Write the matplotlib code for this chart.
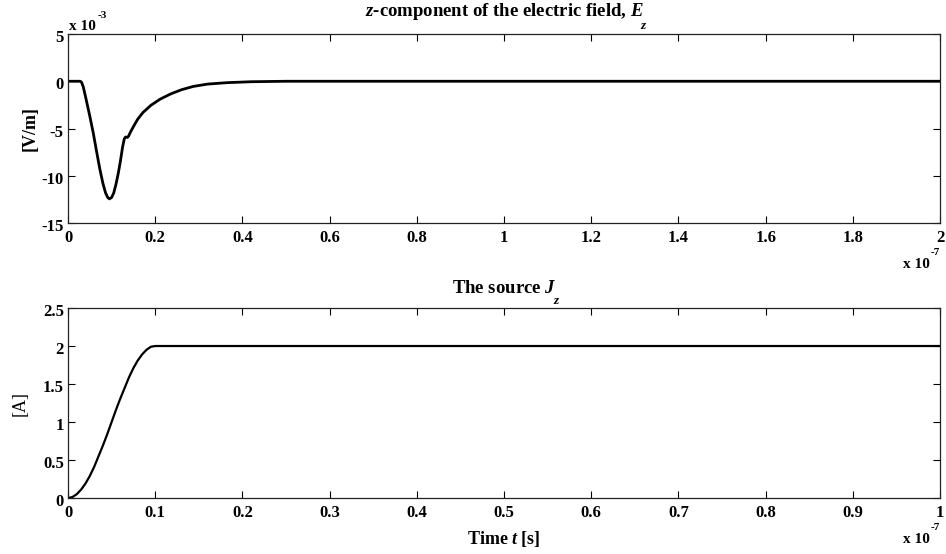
import numpy as np
import matplotlib
matplotlib.use('Agg')
from matplotlib import pyplot as plt
from matplotlib import transforms

# top panel: E_z, time in units of 1e-7 s, field in units of 1e-3 V/m
t_ez = [0, 0.028, 0.031, 0.035, 0.040, 0.050, 0.058, 0.065, 0.073, 0.080, 0.086,
        0.091, 0.095, 0.100, 0.105, 0.110, 0.115, 0.120, 0.125, 0.129, 0.132,
        0.136, 0.139, 0.143, 0.150, 0.160, 0.172, 0.190, 0.211, 0.235, 0.260,
        0.287, 0.320, 0.364, 0.420, 0.500, 2.0]
ez = [0, 0, -0.1, -0.6, -1.6, -3.7, -5.5, -7.3, -9.3, -10.8, -11.8,
      -12.3, -12.45, -12.3, -11.8, -10.9, -9.8, -8.5, -7.0, -6.1, -5.9,
      -5.95, -5.8, -5.4, -4.8, -4.0, -3.3, -2.55, -1.9, -1.35, -0.9,
      -0.55, -0.3, -0.15, -0.05, 0, 0]

# bottom panel: source J_z, time in units of 1e-7 s
t_jz = [0, 0.005, 0.010, 0.015, 0.020, 0.025, 0.030, 0.035, 0.040, 0.045, 0.050,
        0.055, 0.060, 0.065, 0.070, 0.075, 0.080, 0.085, 0.090, 0.095, 0.100, 1.0]
jz = [0, 0.012, 0.05, 0.11, 0.19, 0.29, 0.41, 0.55, 0.69, 0.84, 1.0,
      1.16, 1.31, 1.45, 1.59, 1.71, 1.81, 1.89, 1.95, 1.99, 2.0, 2.0]

xt_top = [0, 0.2, 0.4, 0.6, 0.8, 1, 1.2, 1.4, 1.6, 1.8, 2]
xl_top = ['0', '0.2', '0.4', '0.6', '0.8', '1', '1.2', '1.4', '1.6', '1.8', '2']
yt_top = [-15, -10, -5, 0, 5]
xt_bot = [0, 0.1, 0.2, 0.3, 0.4, 0.5, 0.6, 0.7, 0.8, 0.9, 1]
xl_bot = ['0', '0.1', '0.2', '0.3', '0.4', '0.5', '0.6', '0.7', '0.8', '0.9', '1']
yt_bot = [0, 0.5, 1, 1.5, 2, 2.5]
yl_bot = ['0', '0.5', '1', '1.5', '2', '2.5']

plt.rcParams['font.family'] = 'Liberation Serif'
plt.rcParams['mathtext.fontset'] = 'custom'
plt.rcParams['mathtext.rm'] = 'Liberation Serif:bold'
plt.rcParams['mathtext.bf'] = 'Liberation Serif:bold'
plt.rcParams['mathtext.it'] = 'Liberation Serif:italic:bold'

fig = plt.figure(figsize=(9.46, 5.54), dpi=100)
ax1 = fig.add_axes([0.0719, 0.5975, 0.9218, 0.3411])
ax2 = fig.add_axes([0.0719, 0.1011, 0.9218, 0.3429])

def style(ax):
    ax.tick_params(direction='in', length=5, width=0.8, top=True, right=True,
                   labelsize=12)
    ax.tick_params(axis='x', pad=5)
    ax.tick_params(axis='y', pad=3)
    shift = transforms.ScaledTranslation(0, -1.5 / 72, fig.dpi_scale_trans)
    for lab in ax.get_xticklabels() + ax.get_yticklabels():
        lab.set_fontweight('bold')
    for lab in ax.get_yticklabels():
        lab.set_transform(lab.get_transform() + shift)
    for s in ax.spines.values():
        s.set_linewidth(0.9)
        s.set_color('#222222')

def exponent(ax, base_xy, base_off, exp_txt, exp_off, ha):
    ax.annotate('x 10', xy=base_xy, xycoords='axes fraction', xytext=base_off,
                textcoords='offset pixels', ha=ha, va='baseline',
                fontsize=11, fontweight='bold')
    ax.annotate(exp_txt, xy=base_xy, xycoords='axes fraction', xytext=exp_off,
                textcoords='offset pixels', ha='left', va='baseline',
                fontsize=8, fontweight='bold')

def sub_title(ax, main, sub, pad):
    ttl = ax.set_title(main, fontsize=13.5, fontweight='bold', pad=pad)
    ax.annotate(sub, xy=(1, 0), xycoords=ttl, xytext=(-3, 2),
                textcoords='offset pixels', ha='left', va='top',
                fontsize=9.5, fontweight='bold', fontstyle='italic')

ax1.plot(t_ez, ez, color='black', linewidth=2.0)
ax1.set_xlim(0, 2)
ax1.set_ylim(-15, 5)
ax1.set_xticks(xt_top)
ax1.set_xticklabels(xl_top)
ax1.set_yticks(yt_top)
ax1.set_yticklabels([str(v) for v in yt_top])
style(ax1)
sub_title(ax1, r'$z$-component of the electric field, $E$', 'z', 13)
ax1.set_ylabel('[V/m]', fontsize=13, fontweight='bold', labelpad=2)
exponent(ax1, (0, 1), (1, 4), '-3', (30, 16), 'left')
exponent(ax1, (1, 0), (-10, -45), '-7', (-9, -32), 'right')

ax2.plot(t_jz, jz, color='black', linewidth=1.6)
ax2.set_xlim(0, 1)
ax2.set_ylim(0, 2.5)
ax2.set_xticks(xt_bot)
ax2.set_xticklabels(xl_bot)
ax2.set_yticks(yt_bot)
ax2.set_yticklabels(yl_bot)
style(ax2)
sub_title(ax2, r'The source $J$', 'z', 11)
ax2.set_ylabel('[A]', fontsize=13, labelpad=10)
ax2.set_xlabel(r'Time $t$ [s]', fontsize=13, fontweight='bold', labelpad=6)
exponent(ax2, (1, 0), (-10, -45), '-7', (-9, -32), 'right')

fig.savefig('out.png', dpi=100)
